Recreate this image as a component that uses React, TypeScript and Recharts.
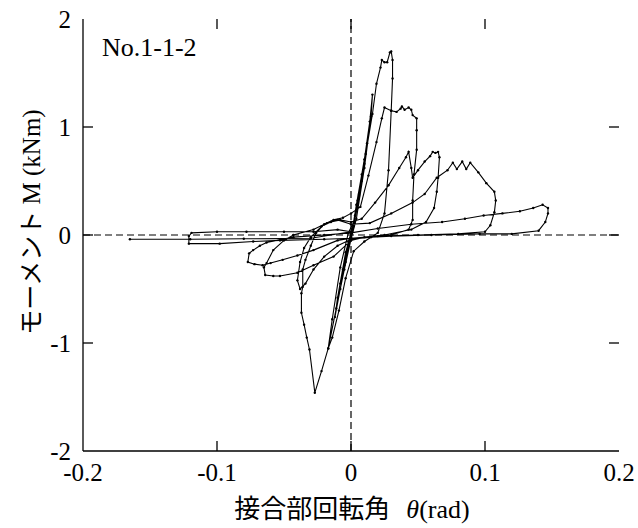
import { Label, Line, LineChart, ReferenceLine, XAxis, YAxis } from "recharts";

// tick values
const xTicks = [-0.2, -0.1, 0, 0.1, 0.2];
const yTicks = [-2, -1, 0, 1, 2];

// hysteresis path, cycle by cycle: [rotation (rad), moment (kNm)]
const cycleA: [number, number][] = [
    [0, 0], [0.003, 0.18], [0.006, 0.37], [0.008, 0.5], [0.006, 0.36], [0.002, 0.08],
    [-0.002, -0.1], [-0.005, -0.28], [-0.008, -0.45], [-0.006, -0.32], [-0.002, -0.06], [0.001, 0.05],
];
const cycleB: [number, number][] = [
    [0.004, 0.28], [0.008, 0.56], [0.012, 0.85], [0.01, 0.66], [0.004, 0.22], [0, -0.02],
    [-0.004, -0.25], [-0.008, -0.5], [-0.012, -0.76], [-0.01, -0.58], [-0.004, -0.16], [0.001, 0.06],
];
const cycleC: [number, number][] = [
    [0.005, 0.32], [0.01, 0.7], [0.014, 1.05], [0.016, 1.3], [0.015, 1.1], [0.01, 0.62], [0.004, 0.15],
    [0, -0.04], [-0.005, -0.32], [-0.011, -0.68], [-0.017, -1.05], [-0.014, -0.78], [-0.008, -0.3],
    [-0.002, 0.02], [0.002, 0.12],
];
const cycle1: [number, number][] = [
    [0.006, 0.38], [0.011, 0.75], [0.016, 1.12], [0.019, 1.4], [0.022, 1.55], [0.023, 1.62], [0.025, 1.6],
    [0.027, 1.6], [0.029, 1.69], [0.03, 1.7], [0.031, 1.62], [0.031, 1.45], [0.03, 1.15], [0.028, 0.6],
    [0.025, 0.2], [0.02, 0.02], [0.01, -0.06], [0.002, -0.15], [-0.004, -0.4], [-0.009, -0.7],
    [-0.014, -0.95], [-0.017, -1.05], [-0.022, -1.26], [-0.027, -1.46], [-0.031, -1.06], [-0.033, -0.95],
    [-0.035, -0.83], [-0.037, -0.72], [-0.037, -0.54], [-0.036, -0.48], [-0.036, -0.32], [-0.034, -0.23],
    [-0.03, -0.1], [-0.026, 0.02], [-0.02, 0.1], [-0.013, 0.14], [-0.006, 0.16], [0, 0.2],
];
const cycle2: [number, number][] = [
    [0.007, 0.26], [0.013, 0.55], [0.019, 0.86], [0.023, 1.08], [0.025, 1.18], [0.03, 1.15], [0.034, 1.14],
    [0.037, 1.17], [0.038, 1.19], [0.04, 1.16], [0.043, 1.18], [0.045, 1.16], [0.046, 1.11], [0.049, 1.08],
    [0.049, 0.97], [0.049, 0.79], [0.047, 0.56], [0.046, 0.32], [0.046, 0.14], [0.043, 0.05], [0.03, 0],
    [0.015, -0.02], [0, -0.04], [-0.01, -0.1], [-0.02, -0.2], [-0.028, -0.32], [-0.034, -0.45],
    [-0.038, -0.5], [-0.04, -0.42], [-0.038, -0.25], [-0.035, -0.12], [-0.03, -0.02], [-0.022, 0.08],
    [-0.015, 0.12], [-0.008, 0.14], [0, 0.12],
];
const cycle3: [number, number][] = [
    [0.008, 0.15], [0.018, 0.3], [0.028, 0.46], [0.036, 0.62], [0.041, 0.72], [0.043, 0.77], [0.045, 0.62],
    [0.046, 0.53], [0.05, 0.6], [0.055, 0.68], [0.059, 0.73], [0.061, 0.77], [0.063, 0.76], [0.065, 0.77],
    [0.066, 0.72], [0.065, 0.53], [0.064, 0.4], [0.062, 0.25], [0.056, 0.12], [0.045, 0.05], [0.025, 0],
    [0.01, -0.02], [0, -0.05], [-0.013, -0.2], [-0.028, -0.28], [-0.04, -0.35], [-0.053, -0.38],
    [-0.058, -0.38], [-0.064, -0.37], [-0.065, -0.3], [-0.063, -0.26], [-0.058, -0.14], [-0.05, -0.05],
    [-0.043, 0], [-0.028, 0.05], [-0.018, 0.11], [-0.01, 0.14], [0, 0.1],
];
const cycle4: [number, number][] = [
    [0.014, 0.11], [0.03, 0.2], [0.046, 0.3], [0.055, 0.38], [0.064, 0.53], [0.072, 0.6], [0.076, 0.67],
    [0.079, 0.61], [0.083, 0.68], [0.086, 0.61], [0.089, 0.67], [0.095, 0.58], [0.101, 0.48], [0.107, 0.4],
    [0.108, 0.32], [0.107, 0.21], [0.104, 0.09], [0.1, 0.03], [0.08, 0.01], [0.05, 0], [0.02, -0.01],
    [0, -0.03], [-0.01, -0.05], [-0.028, -0.14], [-0.04, -0.19], [-0.051, -0.23], [-0.06, -0.26],
    [-0.066, -0.28], [-0.072, -0.27], [-0.077, -0.25], [-0.076, -0.17], [-0.073, -0.14], [-0.068, -0.1],
    [-0.063, -0.07], [-0.043, -0.02], [-0.02, 0], [0, 0.02],
];
const cycle5: [number, number][] = [
    [0.02, 0.06], [0.045, 0.1], [0.068, 0.12], [0.085, 0.15], [0.099, 0.18], [0.113, 0.2], [0.126, 0.22],
    [0.136, 0.25], [0.143, 0.28], [0.147, 0.25], [0.147, 0.2], [0.145, 0.12], [0.14, 0.04], [0.12, 0.01],
    [0.096, 0.01], [0.06, 0], [0.03, -0.01], [0, -0.03], [-0.02, -0.04], [-0.053, -0.05], [-0.073, -0.06],
    [-0.098, -0.08], [-0.121, -0.08], [-0.121, -0.01], [-0.119, 0.02], [-0.1, 0.03], [-0.078, 0.03],
    [-0.05, 0.03], [-0.028, 0.03], [-0.01, 0.05], [0, 0.03],
];
const finalPush: [number, number][] = [
    [-0.03, -0.03], [-0.08, -0.035], [-0.12, -0.04], [-0.165, -0.04],
];

const curve = [...cycleA, ...cycleB, ...cycleC, ...cycle1, ...cycle2, ...cycle3, ...cycle4, ...cycle5, ...finalPush]
    .map(([x, y]) => ({x, y}));

const FONT = "'Liberation Serif', 'Times New Roman', 'Noto Sans CJK JP', serif";
const AXIS = {stroke: "#000", strokeWidth: 1.3};
const TICK_FONT = {fontSize: 25, fill: "#000", fontFamily: FONT};

// inward tick marks, ~10px long: lengths as a share of the axis range
const X_MIN = -0.2, X_MAX = 0.2, Y_MIN = -2, Y_MAX = 2;
const xTickLen = (Y_MAX - Y_MIN) * 10 / 432;
const yTickLen = (X_MAX - X_MIN) * 10 / 536;
const innerXTicks = xTicks.slice(1, -1);
const innerYTicks = yTicks.slice(1, -1);

export default function App() {
    return (
        <div style={{position: "absolute", left: 0, top: 0, background: "#fff"}}>
            <LineChart width={638} height={528} data={curve} margin={{top: 19, right: 19, bottom: 0, left: 0}}>
                <XAxis dataKey="x" type="number" domain={[X_MIN, X_MAX]} ticks={xTicks} height={77}
                       axisLine={AXIS} tickLine={false} tickSize={0} tickMargin={12} tick={TICK_FONT}>
                    <Label content={() => (
                        <text x={352} y={518} textAnchor="middle" fontSize={26} fontFamily={FONT} fill="#000">
                            接合部回転角<tspan fontStyle="italic" dx={16}>θ</tspan>(rad)
                        </text>
                    )}/>
                </XAxis>
                <XAxis xAxisId="top" orientation="top" dataKey="x" type="number" domain={[X_MIN, X_MAX]}
                       ticks={xTicks} height={0} axisLine={AXIS} tickLine={false} tick={false}/>
                <YAxis type="number" domain={[Y_MIN, Y_MAX]} ticks={yTicks} width={83}
                       axisLine={AXIS} tickLine={false} tickSize={0} tickMargin={12} tick={TICK_FONT}>
                    <Label content={() => (
                        <text x={31} y={222} transform="rotate(-90, 31, 222)" textAnchor="middle"
                              dominantBaseline="central" fontSize={25} fontFamily={FONT} fill="#000">
                            モーメント M (kNm)
                        </text>
                    )}/>
                </YAxis>
                <YAxis yAxisId="right" orientation="right" type="number" domain={[Y_MIN, Y_MAX]} ticks={yTicks}
                       width={0} axisLine={AXIS} tickLine={false} tick={false}/>

                <ReferenceLine x={0} stroke="#000" strokeWidth={1.2} strokeDasharray="7 4"/>
                <ReferenceLine y={0} stroke="#000" strokeWidth={1.2} strokeDasharray="7 4"/>

                {innerXTicks.map((t) => (
                    <ReferenceLine key={`b${t}`} segment={[{x: t, y: Y_MIN}, {x: t, y: Y_MIN + xTickLen}]} {...AXIS}/>
                ))}
                {innerXTicks.map((t) => (
                    <ReferenceLine key={`t${t}`} segment={[{x: t, y: Y_MAX}, {x: t, y: Y_MAX - xTickLen}]} {...AXIS}/>
                ))}
                {innerYTicks.map((t) => (
                    <ReferenceLine key={`l${t}`} segment={[{x: X_MIN, y: t}, {x: X_MIN + yTickLen, y: t}]} {...AXIS}/>
                ))}
                {innerYTicks.map((t) => (
                    <ReferenceLine key={`r${t}`} segment={[{x: X_MAX, y: t}, {x: X_MAX - yTickLen, y: t}]} {...AXIS}/>
                ))}

                <Line type="linear" dataKey="y" stroke="#000" strokeWidth={1.1}
                      dot={{r: 1.2, fill: "#000", stroke: "none"}} isAnimationActive={false}/>
            </LineChart>
            <div style={{position: "absolute", left: 102, top: 35, fontSize: 26, lineHeight: 1,
                fontFamily: FONT, color: "#000", whiteSpace: "nowrap"}}>
                No.1-1-2
            </div>
        </div>
    )
}
